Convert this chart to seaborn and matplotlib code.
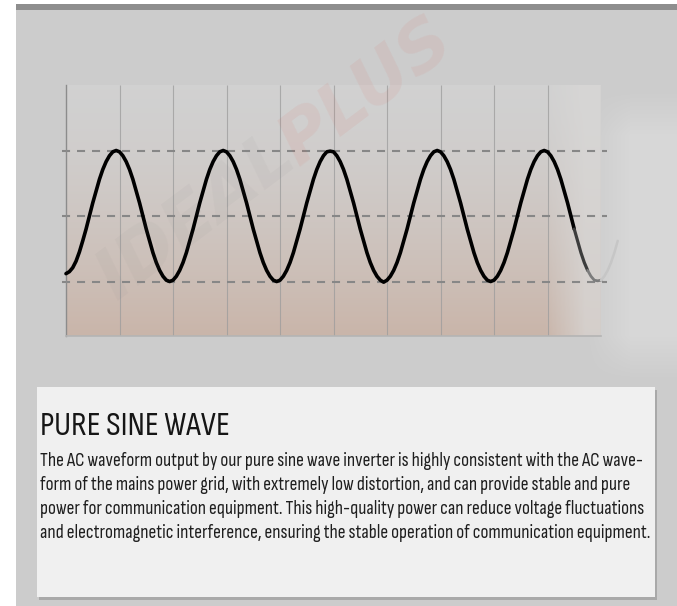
"""
Pure sine wave product card
"""

import numpy as np
import pandas as pd
import matplotlib.pyplot as plt
import matplotlib.patches as mpatches
from matplotlib import font_manager
from matplotlib.font_manager import FontProperties
from matplotlib.textpath import TextPath
import seaborn as sns

# ---------------------------------------------------
# Data
# ---------------------------------------------------
# sample positions along the time axis (grid units, 10 divisions)
wave_t = np.arange(166) * 0.0625

# waveform level, -1 = lower dashed guide, 1 = upper dashed guide
wave_level = [
    -0.88, -0.85, -0.79, -0.69, -0.55, -0.38, -0.20, 0.00,
    0.20, 0.38, 0.56, 0.71, 0.83, 0.92, 0.98, 1.00,
    0.98, 0.92, 0.83, 0.71, 0.56, 0.38, 0.20, 0.00,
    -0.20, -0.38, -0.56, -0.71, -0.83, -0.92, -0.98, -1.00,
    -0.98, -0.92, -0.83, -0.71, -0.56, -0.38, -0.20, 0.00,
    0.20, 0.38, 0.56, 0.71, 0.83, 0.92, 0.98, 1.00,
    0.98, 0.92, 0.83, 0.71, 0.56, 0.38, 0.20, 0.00,
    -0.20, -0.38, -0.56, -0.71, -0.83, -0.92, -0.98, -1.00,
    -0.98, -0.92, -0.83, -0.71, -0.56, -0.38, -0.20, 0.00,
    0.20, 0.38, 0.56, 0.71, 0.83, 0.92, 0.98, 0.99,
    0.98, 0.92, 0.83, 0.71, 0.56, 0.38, 0.20, 0.00,
    -0.20, -0.38, -0.56, -0.71, -0.83, -0.92, -0.98, -1.01,
    -0.98, -0.92, -0.83, -0.71, -0.56, -0.38, -0.20, 0.00,
    0.20, 0.38, 0.56, 0.71, 0.83, 0.92, 0.98, 1.00,
    0.98, 0.92, 0.83, 0.71, 0.56, 0.38, 0.20, 0.00,
    -0.20, -0.38, -0.56, -0.71, -0.83, -0.92, -0.98, -1.00,
    -0.98, -0.92, -0.83, -0.71, -0.56, -0.38, -0.20, 0.00,
    0.20, 0.38, 0.56, 0.71, 0.83, 0.92, 0.98, 1.00,
    0.98, 0.92, 0.83, 0.71, 0.56, 0.38, 0.20, 0.00,
    -0.20, -0.38, -0.56, -0.71, -0.83, -0.92, -0.98, -0.99,
    -0.98, -0.92, -0.83, -0.71, -0.56, -0.38,
]

guide_levels = [1, 0, -1]
grid_ticks = [1, 2, 3, 4, 5, 6, 7, 8, 9, 10]

title_text = "PURE SINE WAVE"
body_lines = [
    "The AC waveform output by our pure sine wave inverter is highly consistent with the AC wave-",
    "form of the mains power grid, with extremely low distortion, and can provide stable and pure",
    "power for communication equipment. This high-quality power can reduce voltage fluctuations",
    "and electromagnetic interference, ensuring the stable operation of communication equipment.",
]

wave = pd.DataFrame({"t": wave_t, "level": wave_level})

# ---------------------------------------------------
# Style
# ---------------------------------------------------
sns.set_theme(style="white")
plt.rcParams["lines.scale_dashes"] = False


# pick the installed sans face whose proportions are closest to the
# condensed face used on the card (title is ~188 px wide, caps ~23 px tall)
def pick_face(target_ratio=188 / 23):
    best, best_err = None, None
    seen = set()
    for f in font_manager.fontManager.ttflist:
        name = f.name
        if f.style != "normal" or f.fname in seen:
            continue
        if any(bad in name for bad in ("Serif", "Mono", "CJK", "STIX", "cm")):
            continue
        if not any(ok in name for ok in ("Sans", "Roboto", "Lato", "Inter", "Open")):
            continue
        w = f.weight
        if isinstance(w, str):
            w = font_manager.weight_dict.get(w, 400)
        if w != 400:
            continue
        seen.add(f.fname)
        try:
            ext = TextPath((0, 0), title_text, size=100,
                           prop=FontProperties(fname=f.fname)).get_extents()
        except Exception:
            continue
        err = abs(ext.width / ext.height - target_ratio)
        if best_err is None or err < best_err:
            best, best_err = f.fname, err
    return best


face = pick_face()

W, H = 677, 606
fig = plt.figure(figsize=(W / 100, H / 100), dpi=100)

# ---------------------------------------------------
# Page background
# ---------------------------------------------------
yy, xx = np.mgrid[0:H, 0:W]
bg = np.full((H, W), 0.80)
right_glow = (np.clip((xx - 585) / 45, 0, 1)
              * np.clip((yy - 90) / 45, 0, 1)
              * np.clip((380 - yy) / 45, 0, 1))
bg = bg + 0.045 * right_glow
bg[4:10, :] = 0.56
bg[:4, :] = 1.0
bg[:, :16] = 1.0
bg_ax = fig.add_axes([0, 0, 1, 1], zorder=-10)
bg_ax.imshow(np.dstack([bg, bg, bg]), aspect="auto", interpolation="bilinear")
bg_ax.axis("off")

# ---------------------------------------------------
# Waveform panel
# ---------------------------------------------------
ax = fig.add_axes([66 / W, 1 - 336 / H, 535 / W, 251 / H])
ax.set_xlim(0, 10)
ax.set_ylim(-1.832, 2.0)
ax.patch.set_alpha(0)

# tinted gradient behind the wave
gy, gx = np.mgrid[0:1:200j, 0:1:120j]
t = gy ** 1.5
top_c = np.array([0.82, 0.82, 0.82])
bot_c = np.array([0.79, 0.71, 0.665])
grad = top_c * (1 - t[..., None]) + bot_c * t[..., None]
fade = np.clip((1 - gx) / 0.10, 0.25, 1)[..., None]
light = np.array([0.85, 0.845, 0.84])
grad = grad * fade + light * (1 - fade)
ax.imshow(grad, extent=[0, 10, -1.832, 2.0], origin="upper", aspect="auto", zorder=0)

# vertical grid
ax.vlines(grid_ticks, -1.832, 2.0, color="#9c9c9c", lw=0.8, alpha=0.75, zorder=1)

# dashed guides
ax.hlines(guide_levels, -0.075, 10.11, color="#878787", lw=1.5,
          linestyles=[(0, (5.8, 5.0))], clip_on=False, zorder=2)

# the wave, fading out at the right end
sns.lineplot(data=wave[wave["t"] <= 9.5], x="t", y="level", ax=ax,
             color="black", lw=2.6, zorder=4)
sns.lineplot(data=wave[(wave["t"] >= 9.5) & (wave["t"] <= 9.75)], x="t", y="level",
             ax=ax, color="#3c3c3c", lw=2.3, zorder=4)
sns.lineplot(data=wave[(wave["t"] >= 9.75) & (wave["t"] <= 10.0)], x="t", y="level",
             ax=ax, color="#7c7c7c", lw=2.0, zorder=4)
sns.lineplot(data=wave[wave["t"] >= 10.0], x="t", y="level",
             ax=ax, color="#c6c6c6", lw=1.8, zorder=4)
for line in ax.lines:
    line.set_clip_on(False)
    line.set_solid_joinstyle("round")
    line.set_solid_capstyle("round")

for side in ["top", "right"]:
    ax.spines[side].set_visible(False)
ax.spines["left"].set_color("#8c8c8c")
ax.spines["left"].set_linewidth(1.0)
ax.spines["bottom"].set_color("#b4b4b4")
ax.spines["bottom"].set_linewidth(1.2)
ax.set_xticks([])
ax.set_yticks([])
ax.set_xlabel("")
ax.set_ylabel("")

# watermark (very faint)
wm = dict(fontsize=50, fontweight="bold", fontstyle="italic", rotation=37,
          ha="center", va="center", rotation_mode="anchor", zorder=1)
fig.text(196 / W, 1 - 216 / H, "IDEAL", color="#7a7a7a", alpha=0.055, **wm)
fig.text(366 / W, 1 - 92 / H, "PLUS", color="#e04a3a", alpha=0.075, **wm)

# ---------------------------------------------------
# Text card
# ---------------------------------------------------
shadow = mpatches.Rectangle((39 / W, 1 - 600 / H), 618 / W, 210 / H,
                            transform=fig.transFigure, facecolor="#a9a9a9",
                            edgecolor="none", zorder=2)
card = mpatches.Rectangle((37 / W, 1 - 597 / H), 618 / W, 210 / H,
                          transform=fig.transFigure, facecolor="#f0f0f0",
                          edgecolor="none", zorder=3)
fig.add_artist(shadow)
fig.add_artist(card)

renderer = fig.canvas.get_renderer()


def fit_width(txt, target_px):
    # shrink or grow a text until it spans the width seen in the picture
    for _ in range(4):
        w = txt.get_window_extent(renderer).width
        txt.set_fontsize(txt.get_fontsize() * target_px / w)
    return txt.get_fontsize()


def card_font(size):
    if face:
        return FontProperties(fname=face, size=size)
    return FontProperties(family=["Lato", "DejaVu Sans"], size=size)


title = fig.text(40 / W, 1 - 435 / H, title_text, color="#161616",
                 fontproperties=card_font(22), va="baseline", ha="left", zorder=4)
fit_width(title, 190)

baselines = [466, 490, 514, 538]
body = []
for line_text, base in zip(body_lines, baselines):
    body.append(fig.text(40 / W, 1 - base / H, line_text, color="#1e1e1e",
                         fontproperties=card_font(11.6), va="baseline",
                         ha="left", zorder=4))
# the last line is the longest one; it ends just inside the card
body_size = fit_width(body[3], 610)
for txt in body[:3]:
    txt.set_fontsize(body_size)

plt.savefig("out.png", dpi=100)
plt.close()
